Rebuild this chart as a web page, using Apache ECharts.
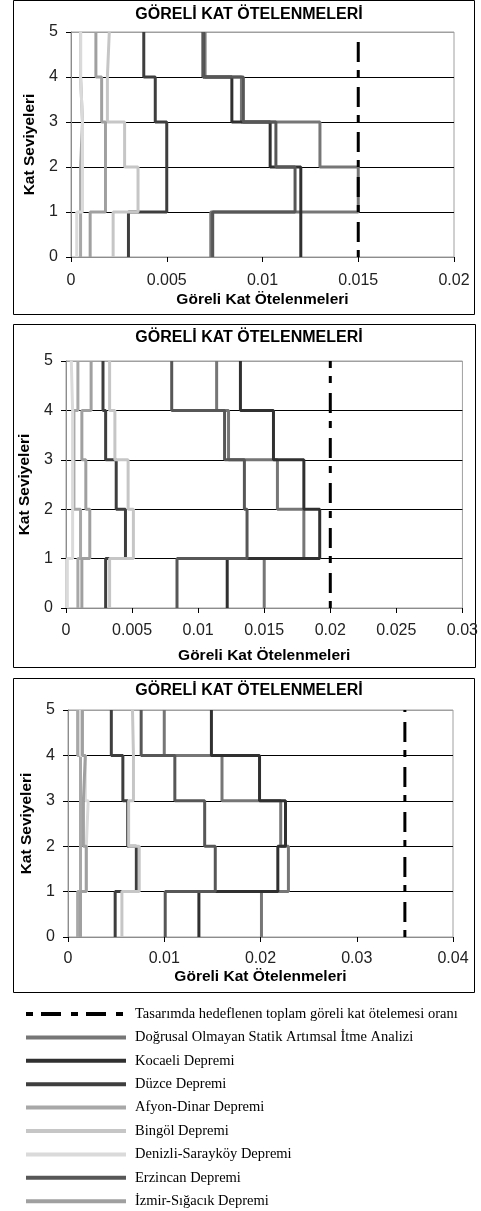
<!DOCTYPE html>
<html>
<head>
<meta charset="utf-8">
<script src="https://cdn.jsdelivr.net/npm/echarts@6/dist/echarts.min.js"></script>
<style>
  html, body { margin: 0; padding: 0; background: #fff; }
  #main { width: 481px; height: 1211px; }
</style>
</head>
<body>
<div id="main"></div>
<script>
var dom = document.getElementById('main');
var myChart = echarts.init(dom);

// kat seviyeleri
var levels = [0, 1, 2, 3, 4, 5];

var seriesNames = [
    'Doğrusal Olmayan Statik Artımsal İtme Analizi',
    'Kocaeli Depremi',
    'Düzce Depremi',
    'Afyon-Dinar Depremi',
    'Bingöl Depremi',
    'Denizli-Sarayköy Depremi',
    'Erzincan Depremi',
    'İzmir-Sığacık Depremi'
];
var targetName = 'Tasarımda hedeflenen toplam göreli kat ötelemesi oranı';
var seriesColors = ['#767676', '#303030', '#3e3e3e', '#a8a8a8', '#c6c6c6', '#dadada', '#575757', '#a0a0a0'];

// her kat için göreli kat ötelenmesi (1. kat -> 5. kat)
var drifts1 = [
    [0.0073, 0.0150, 0.0130, 0.0089, 0.0070],
    [0.0120, 0.0120, 0.0104, 0.0084, 0.0069],
    [0.0030, 0.0050, 0.0050, 0.0044, 0.0038],
    [0.0005, 0.0005, 0.0006, 0.0005, 0.0005],
    [0.0022, 0.0035, 0.0028, 0.0019, 0.0020],
    [0.0003, 0.0006, 0.0006, 0.0005, 0.0005],
    [0.0074, 0.0117, 0.0107, 0.0090, 0.0069],
    [0.0010, 0.0018, 0.0018, 0.0016, 0.0013]
];
var drifts2 = [
    [0.0150, 0.0180, 0.0160, 0.0123, 0.0114],
    [0.0122, 0.0192, 0.0180, 0.0157, 0.0132],
    [0.0030, 0.0045, 0.0038, 0.0030, 0.0028],
    [0.0009, 0.0011, 0.0006, 0.0006, 0.0009],
    [0.0033, 0.0051, 0.0047, 0.0037, 0.0033],
    [0.0001, 0.0005, 0.0005, 0.0005, 0.0004],
    [0.0084, 0.0137, 0.0135, 0.0120, 0.0080],
    [0.0012, 0.0018, 0.0015, 0.0012, 0.0019]
];
var drifts3 = [
    [0.0201, 0.0229, 0.0221, 0.0160, 0.0100],
    [0.0136, 0.0218, 0.0226, 0.0199, 0.0149],
    [0.0049, 0.0071, 0.0062, 0.0057, 0.0045],
    [0.0010, 0.0013, 0.0013, 0.0013, 0.0010],
    [0.0056, 0.0074, 0.0063, 0.0068, 0.0067],
    [0.0013, 0.0019, 0.0021, 0.0018, 0.0013],
    [0.0101, 0.0153, 0.0142, 0.0111, 0.0076],
    [0.0013, 0.0019, 0.0016, 0.0018, 0.0015]
];
var allDrifts = [drifts1, drifts2, drifts3];

var targetDrift = [0.015, 0.02, 0.035];
var xMax = [0.02, 0.03, 0.04];
var xStep = [0.005, 0.005, 0.01];

var chartTitle = 'GÖRELİ KAT ÖTELENMELERİ';
var xName = 'Göreli Kat Ötelenmeleri';
var yName = 'Kat Seviyeleri';

// yerleşim
var grids = [
    { left: 71, top: 32, width: 383, height: 225 },
    { left: 66, top: 361, width: 397, height: 247 },
    { left: 68, top: 710, width: 385, height: 227 }
];
var boxes = [
    [13.5, 0.5, 461, 314],
    [13.5, 324.5, 462, 343],
    [13.5, 678.5, 461, 314]
];
var titleTops = [7, 330, 683];
var xNameGap = [35, 40, 32];
var xLabelMargin = [16, 15, 14];
var yNameGap = [31, 30, 28];

function stepPoints(d) {
    var pts = [];
    for (var i = 0; i < d.length; i++) {
        pts.push([d[i], levels[i]]);
        pts.push([d[i], levels[i + 1]]);
    }
    return pts;
}

var fontSans = 'Arial, "Liberation Sans", sans-serif';
// nokta - çizgi - nokta
var dashPattern = [7, 8, 20, 10];

var titles = [], xAxes = [], yAxes = [], series = [], graphics = [];

for (var k = 0; k < 3; k++) {
    titles.push({
        text: chartTitle,
        left: 249,
        top: titleTops[k],
        textAlign: 'center',
        padding: 0,
        textStyle: { fontFamily: fontSans, fontSize: 16, fontWeight: 'bold', color: '#000' }
    });
    graphics.push({
        type: 'rect',
        shape: { x: boxes[k][0], y: boxes[k][1], width: boxes[k][2], height: boxes[k][3] },
        style: { fill: null, stroke: '#000', lineWidth: 1 },
        z: -1
    });
    xAxes.push({
        type: 'value',
        gridIndex: k,
        min: 0,
        max: xMax[k],
        interval: xStep[k],
        name: xName,
        nameLocation: 'middle',
        nameGap: xNameGap[k],
        nameTextStyle: { fontFamily: fontSans, fontSize: 15.5, fontWeight: 'bold', color: '#000' },
        axisLine: { show: true, lineStyle: { color: '#8c8c8c', width: 1 } },
        axisTick: { show: true, length: 5, lineStyle: { color: '#000' } },
        axisLabel: { fontFamily: fontSans, fontSize: 16, color: '#222', margin: xLabelMargin[k] },
        splitLine: { show: false }
    });
    yAxes.push({
        type: 'value',
        gridIndex: k,
        min: 0,
        max: 5,
        interval: 1,
        name: yName,
        nameLocation: 'middle',
        nameGap: yNameGap[k],
        nameTextStyle: { fontFamily: fontSans, fontSize: 15.5, fontWeight: 'bold', color: '#000' },
        axisLine: { show: true, lineStyle: { color: '#8c8c8c', width: 1 } },
        axisTick: { show: true, length: 5, lineStyle: { color: '#000' } },
        axisLabel: { fontFamily: fontSans, fontSize: 16, color: '#222', margin: 13 },
        splitLine: { show: true, lineStyle: { color: ['#8c8c8c', '#000', '#000', '#000', '#000', '#a0a0a0'], width: 1 } }
    });
    for (var j = 0; j < seriesNames.length; j++) {
        series.push({
            name: seriesNames[j],
            type: 'line',
            xAxisIndex: k,
            yAxisIndex: k,
            symbol: 'none',
            color: seriesColors[j],
            lineStyle: { width: 3, color: seriesColors[j] },
            data: stepPoints(allDrifts[k][j])
        });
    }
    series.push({
        name: targetName,
        type: 'line',
        xAxisIndex: k,
        yAxisIndex: k,
        symbol: 'none',
        color: '#000',
        z: 3,
        lineStyle: { width: 3, color: '#000', type: dashPattern },
        data: [[targetDrift[k], 0], [targetDrift[k], 5]]
    });
}

var option = {
    animation: false,
    backgroundColor: '#fff',
    title: titles,
    grid: grids.map(function (g) {
        return { left: g.left, top: g.top, width: g.width, height: g.height, show: true, borderColor: '#a0a0a0', borderWidth: 1, backgroundColor: 'transparent' };
    }),
    xAxis: xAxes,
    yAxis: yAxes,
    legend: {
        orient: 'vertical',
        left: 24,
        top: 1005,
        padding: 0,
        itemWidth: 100,
        itemHeight: 18,
        itemGap: 5.4,
        data: [targetName].concat(seriesNames),
        itemStyle: { opacity: 0 },
        lineStyle: { width: 4, cap: 'butt' },
        textStyle: { fontFamily: '"Liberation Serif", "Times New Roman", serif', fontSize: 14.5, lineHeight: 18, color: '#000', padding: [0, 0, 0, 4] }
    },
    graphic: graphics,
    series: series
};

if (option && typeof option === 'object') {
    myChart.setOption(option);
}
</script>
</body>
</html>
